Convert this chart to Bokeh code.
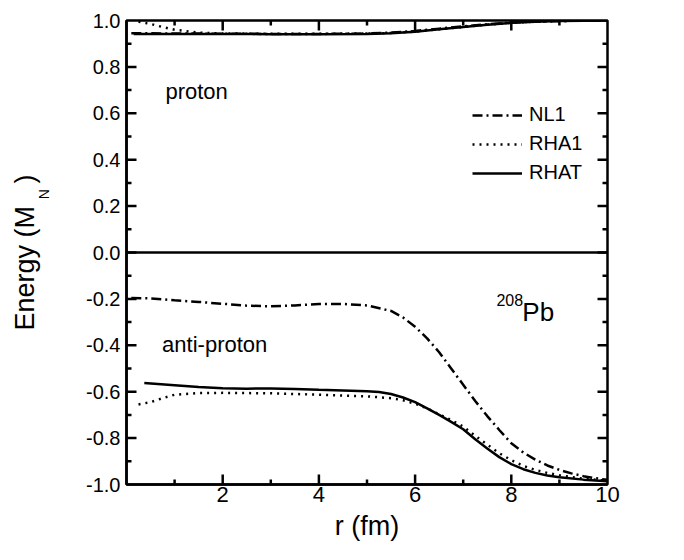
import math
from bokeh.plotting import figure
from bokeh.models import (Range1d, LinearAxis, FixedTicker, PrintfTickFormatter, Span,
                          Label, Legend, LegendItem, Title)
from bokeh.embed import file_html
from bokeh.resources import INLINE

FONT = "Liberation Sans"

# ---------------- data ----------------
# proton (upper) curves
r_p_nl1 = [0.1, 1, 2, 3, 4, 5, 5.5, 6, 6.5, 7, 7.5, 8, 8.5, 9, 10]
e_p_nl1 = [0.945, 0.944, 0.943, 0.942, 0.942, 0.944, 0.948, 0.955, 0.965, 0.975, 0.984, 0.991, 0.995, 0.998, 1.0]

r_p_rha1 = [0.25, 0.5, 0.75, 1, 1.5, 2, 3, 4, 5, 5.5, 6, 6.5, 7, 7.5, 8, 8.5, 9, 10]
e_p_rha1 = [0.995, 0.985, 0.972, 0.96, 0.948, 0.944, 0.943, 0.943, 0.944, 0.946, 0.952, 0.962, 0.972, 0.982, 0.99, 0.995, 0.998, 1.0]

r_p_rhat = [0.15, 1, 2, 3, 4, 5, 5.5, 6, 6.5, 7, 7.5, 8, 8.5, 9, 10]
e_p_rhat = [0.942, 0.942, 0.942, 0.941, 0.941, 0.942, 0.945, 0.952, 0.962, 0.972, 0.982, 0.99, 0.995, 0.998, 1.0]

# anti-proton (lower) curves
r_a_nl1 = [0.1, 0.5, 1, 1.5, 2, 2.5, 3, 3.5, 4, 4.5, 5, 5.5, 5.75, 6, 6.25, 6.5, 6.75, 7,
           7.25, 7.5, 7.75, 8, 8.25, 8.5, 8.75, 9, 9.25, 9.5, 9.75, 10]
e_a_nl1 = [-0.196, -0.198, -0.206, -0.213, -0.221, -0.229, -0.232, -0.228, -0.222, -0.222,
           -0.228, -0.252, -0.28, -0.32, -0.37, -0.43, -0.50, -0.57, -0.64, -0.705, -0.765,
           -0.822, -0.862, -0.893, -0.918, -0.937, -0.952, -0.964, -0.973, -0.98]

r_a_rha1 = [0.25, 0.5, 0.75, 1, 1.5, 2, 3, 4, 5, 5.5, 5.75, 6, 6.25, 6.5, 6.75, 7, 7.25,
            7.5, 7.75, 8, 8.25, 8.5, 8.75, 9, 9.5, 10]
e_a_rha1 = [-0.655, -0.645, -0.628, -0.613, -0.606, -0.605, -0.607, -0.613, -0.62, -0.628,
            -0.637, -0.652, -0.672, -0.698, -0.722, -0.75, -0.79, -0.828, -0.865, -0.895,
            -0.92, -0.937, -0.95, -0.96, -0.975, -0.984]

r_a_rhat = [0.37, 1, 1.5, 2, 2.5, 3, 3.5, 4, 4.5, 5, 5.25, 5.5, 5.75, 6, 6.25, 6.5, 6.75, 7,
            7.25, 7.5, 7.75, 8, 8.25, 8.5, 8.75, 9, 9.5, 10]
e_a_rhat = [-0.562, -0.572, -0.58, -0.585, -0.587, -0.586, -0.588, -0.592, -0.595, -0.598,
            -0.601, -0.61, -0.625, -0.645, -0.672, -0.70, -0.73, -0.762, -0.805, -0.845,
            -0.882, -0.912, -0.934, -0.95, -0.961, -0.969, -0.979, -0.986]

x_major = [2, 4, 6, 8, 10]
x_minor = [1, 3, 5, 7, 9]
y_major = [-1.0, -0.8, -0.6, -0.4, -0.2, 0.0, 0.2, 0.4, 0.6, 0.8, 1.0]
y_minor = [-0.9, -0.7, -0.5, -0.3, -0.1, 0.1, 0.3, 0.5, 0.7, 0.9]
x_lo, x_hi = 0, 10
y_lo, y_hi = -1, 1

series_names = ["NL1", "RHA1", "RHAT"]

# ---------------- figure ----------------
W, H = 668, 544
BL, BR, BT, BB = 126, 61, 20, 60
p = figure(width=W, height=H, output_backend="svg", toolbar_location=None,
           x_range=Range1d(x_lo, x_hi), y_range=Range1d(y_lo, y_hi),
           x_axis_location=None, y_axis_location=None,
           min_border_left=BL, min_border_right=BR, min_border_top=BT, min_border_bottom=BB)
p.grid.visible = False
p.background_fill_color = "white"
p.border_fill_color = "white"
p.outline_line_color = "black"
p.outline_line_width = 2.5


def base_axis(ax):
    ax.axis_line_width = 2.5
    ax.axis_line_color = "black"
    ax.major_tick_in = 0
    ax.major_tick_out = 0
    ax.minor_tick_in = 0
    ax.minor_tick_out = 0
    ax.major_label_text_font = FONT
    ax.major_label_text_color = "black"


# bottom axis with labels
bottom = LinearAxis(ticker=FixedTicker(ticks=x_major, minor_ticks=x_minor))
base_axis(bottom)
bottom.major_label_text_font_size = "22px"
bottom.major_label_standoff = 2
bottom.axis_label = "r (fm)"
bottom.axis_label_text_font = FONT
bottom.axis_label_text_font_size = "27px"
bottom.axis_label_text_font_style = "normal"
bottom.axis_label_text_color = "black"
bottom.axis_label_standoff = 6
p.add_layout(bottom, "below")

# left axis with labels; its axis label carries the subscript "N" of the title
left = LinearAxis(ticker=FixedTicker(ticks=y_major, minor_ticks=y_minor),
                  formatter=PrintfTickFormatter(format="%.1f"))
base_axis(left)
left.major_label_text_font_size = "20px"
left.major_label_standoff = 6
left.axis_label = "\u00a0" * 30 + "N"
left.axis_label_text_font = FONT
left.axis_label_text_font_size = "14px"
left.axis_label_text_font_style = "normal"
left.axis_label_text_color = "black"
left.axis_label_standoff = 31
p.add_layout(left, "left")

# main y title (outside the subscript)
ytitle = Title(text="Energy (M\u00a0\u00a0\u00a0)", align="center", vertical_align="bottom",
               standoff=0, text_font=FONT, text_font_size="27px", text_font_style="normal",
               text_color="black")
try:
    ytitle.standoff = -12
except Exception:
    pass
p.add_layout(ytitle, "left")

# zero line separating proton / anti-proton
p.add_layout(Span(location=0, dimension="width", line_color="black", line_width=2.5))

dash_nl1 = "10 4 2 4"
dash_rha1 = "2 5"

# proton curves
p.line(r_p_nl1, e_p_nl1, line_color="black", line_width=2.5, line_dash=dash_nl1)
p.line(r_p_rha1, e_p_rha1, line_color="black", line_width=2.5, line_dash=dash_rha1)
p.line(r_p_rhat, e_p_rhat, line_color="black", line_width=2.5)

# anti-proton curves
l1 = p.line(r_a_nl1, e_a_nl1, line_color="black", line_width=2.5, line_dash=dash_nl1)
l2 = p.line(r_a_rha1, e_a_rha1, line_color="black", line_width=2.5, line_dash=dash_rha1)
l3 = p.line(r_a_rhat, e_a_rhat, line_color="black", line_width=2.5)

# inward ticks on all four sides: small filled bars in screen units, centred just inside
px_x = (x_hi - x_lo) / (W - BL - BR)   # data units per pixel, x
px_y = (y_hi - y_lo) / (H - BT - BB)   # data units per pixel, y
MAJ, MIN, TW = 10, 5, 2.5
TKS = dict(fill_color="black", line_color=None,
           width_units="screen", height_units="screen")


def inner(vals, lo, hi):
    return [v for v in vals if lo < v < hi]


xm, xn = inner(x_major, x_lo, x_hi), inner(x_minor, x_lo, x_hi)
ym, yn = inner(y_major, y_lo, y_hi), inner(y_minor, y_lo, y_hi)
for xs, L in ((xm, MAJ), (xn, MIN)):
    p.rect(x=xs, y=[y_lo + (L / 2) * px_y] * len(xs), width=TW, height=L, **TKS)
    p.rect(x=xs, y=[y_hi - (L / 2) * px_y] * len(xs), width=TW, height=L, **TKS)
for ys, L in ((ym, MAJ), (yn, MIN)):
    p.rect(x=[x_lo + (L / 2) * px_x] * len(ys), y=ys, width=L, height=TW, **TKS)
    p.rect(x=[x_hi - (L / 2) * px_x] * len(ys), y=ys, width=L, height=TW, **TKS)

legend = Legend(items=[LegendItem(label=n, renderers=[r]) for n, r in zip(series_names, [l1, l2, l3])],
                location=(346, 300), orientation="vertical",
                padding=0, margin=0, spacing=6,
                glyph_width=50, glyph_height=20, label_height=20, label_standoff=7,
                label_text_font=FONT, label_text_font_size="20px", label_text_color="black",
                border_line_color=None, background_fill_alpha=0)
p.add_layout(legend, "center")


def txt(x, y, s, size):
    p.add_layout(Label(x=x, y=y, text=s, text_font=FONT, text_font_size=size,
                       text_color="black", text_baseline="alphabetic", text_align="left"))


txt(0.81, 0.695, "proton", "22px")
txt(0.74, -0.396, "anti-proton", "22px")
txt(7.69, -0.203, "208", "16px")
txt(8.23, -0.258, "Pb", "26px")

open("out.html", "w").write(file_html(p, INLINE))
